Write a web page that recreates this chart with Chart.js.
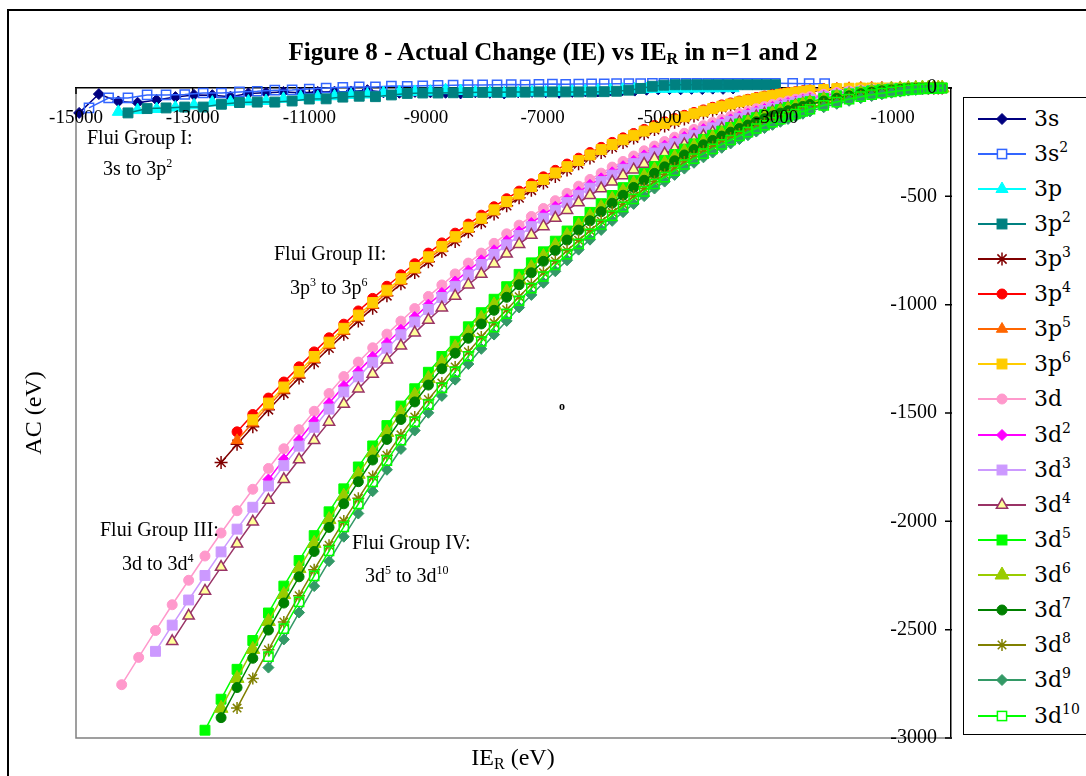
<!DOCTYPE html>
<html>
<head>
<meta charset="utf-8">
<script src="https://cdn.jsdelivr.net/npm/chart.js@4.4.0/dist/chart.umd.min.js"></script>
<style>
html,body{margin:0;padding:0;background:#fff;width:1086px;height:776px;overflow:hidden;}
#wrap{position:relative;width:1086px;height:776px;overflow:hidden;}
#frame{position:absolute;left:7px;top:9px;width:1300px;height:900px;border:2px solid #000;}
#chart{position:absolute;left:0;top:0;}
.t{position:absolute;font-family:"Liberation Serif","Times New Roman",serif;color:#000;white-space:nowrap;}
.t sup{font-size:12px;line-height:0;vertical-align:8px;}
#title{left:153px;width:800px;top:37px;line-height:30px;font-size:25px;font-weight:bold;text-align:center;}
#title sub{font-size:16px;line-height:0;vertical-align:-4px;}
#xtitle{left:413px;width:200px;top:743px;line-height:28px;font-size:24px;text-align:center;}
#xtitle sub{font-size:16px;line-height:0;vertical-align:-4px;}
#ytitle{left:-67px;width:200px;top:399px;line-height:28px;font-size:24px;text-align:center;transform:rotate(-90deg);}
.ann{font-size:20px;line-height:24px;}
#legend{position:absolute;left:963px;top:97px;width:300px;height:636px;border:1.5px solid #000;background:#fff;}
.li{position:absolute;left:14px;height:30px;width:250px;}
.li svg{position:absolute;left:0;top:0;}
.li span{position:absolute;left:56px;top:0;line-height:30px;font-family:"DejaVu Serif",serif;font-size:22px;color:#000;white-space:nowrap;}
.li sup{font-size:14px;line-height:0;vertical-align:9px;}
</style>
</head>
<body>
<div id="wrap">
<div id="frame"></div>
<canvas id="chart" width="1086" height="776"></canvas>
<div class="t" id="title">Figure 8 - Actual Change (IE) vs IE<sub>R</sub> in n=1 and 2</div>
<div class="t" id="xtitle">IE<sub>R</sub> (eV)</div>
<div class="t" id="ytitle">AC (eV)</div>
<div class="t ann" style="left:87px;top:125px;">Flui Group I:</div>
<div class="t ann" style="left:103px;top:156px;">3s to 3p<sup>2</sup></div>
<div class="t ann" style="left:274px;top:241px;">Flui Group II:</div>
<div class="t ann" style="left:290px;top:275px;">3p<sup>3</sup> to 3p<sup>6</sup></div>
<div class="t ann" style="left:100px;top:517px;">Flui Group III:</div>
<div class="t ann" style="left:122px;top:551px;">3d to 3d<sup>4</sup></div>
<div class="t ann" style="left:352px;top:530px;">Flui Group IV:</div>
<div class="t ann" style="left:365px;top:563px;">3d<sup>5</sup> to 3d<sup>10</sup></div>
<div class="t" style="left:559px;top:399px;font-size:12px;line-height:14px;font-weight:bold;">o</div>
<div id="legend"></div>
</div>
<script>
// ---------- axis ticks ----------
const xTickValues = [-15000,-13000,-11000,-9000,-7000,-5000,-3000,-1000];
const xTickLabels = ['-15000','-13000','-11000','-9000','-7000','-5000','-3000','-1000'];
const yTickValues = [0,-500,-1000,-1500,-2000,-2500,-3000];
const yTickLabels = ['0','-500','-1000','-1500','-2000','-2500','-3000'];

// ---------- series names ----------
const seriesNames = ['3s','3s²','3p','3p²','3p³','3p⁴','3p⁵','3p⁶','3d','3d²','3d³','3d⁴','3d⁵','3d⁶','3d⁷','3d⁸','3d⁹','3d¹⁰'];

// ---------- IE_R (x) values ----------
const xGridI = [-14946,-14608,-14274,-13944,-13618,-13296,-12977,-12663,-12352,-12045,-11742,-11443,-11148,-10856,-10569,-10285,-10005,-9729,-9457,-9189,-8924,-8664,-8407,-8154,-7905,-7660,-7419,-7182,-6948,-6718,-6493,-6271,-6052,-5838,-5628,-5421,-5219,-5020,-4825,-4634,-4447,-4263,-4084,-3908,-3736];
const xGridIh = [-14777,-14441,-14109,-13781,-13456,-13136,-12820,-12507,-12198,-11893,-11592,-11295,-11001,-10712,-10426,-10145,-9867,-9593,-9322,-9056,-8794,-8535,-8280,-8029,-7782,-7539,-7300,-7064,-6833,-6605,-6381,-6161,-5945,-5733,-5524,-5320,-5119,-4922,-4729,-4540,-4355,-4173,-3996,-3822,-3652,-3486,-3324,-3166,-3011,-2714,-2432,-2166];
const xGridZ = [-14217,-13926,-13637,-13351,-13069,-12789,-12513,-12239,-11969,-11701,-11437,-11176,-10917,-10662,-10409,-10160,-9914,-9670,-9430,-9193,-8959,-8728,-8500,-8274,-8052,-7833,-7617,-7404,-7194,-6987,-6783,-6582,-6384,-6189,-5997,-5808,-5622,-5440,-5260,-5083,-4909,-4738,-4571,-4406,-4244,-4086,-3930,-3778,-3628,-3481,-3338,-3197,-3060,-2925,-2794,-2665,-2540,-2418,-2182,-1958,-1747,-1547,-1360,-1185,-1021,-870,-731,-604,-490,-387,-296,-218,-151];

// ---------- AC (y) values ----------
const y3s = [-115,-28,-62,-68,-55,-42,-32,-33,-40,-25,-22,-18,-22,-18,-17,-16,-10,-20,-22,-18,-20,-22,-25,-20,-22,-25,-20,-18,-20,-22,-18,-15,-16,-12,-10,-12,-8,-6,-5,-6,-4,-5,-3,-4,-2];
const y3s2 = [-92,-46,-46,-32,-32,-30,-23,-23,-18,-15,-10,-9,-5,0,3,5,5,9,8,10,12,13,14,14,15,16,15,17,18,17,18,19,19,20,20,20,21,21,21,21,22,22,22,22,22,22,22,22,22,21,20,20];
const y3p = [null,null,-110,-102,-97,-90,-80,-67,-65,-62,-60,-50,-42,-42,-38,-32,-30,-23,-19,-18,-17,-10,-14,-20,-22,-24,-22,-20,-20,-18,-17,-15,-12,-10,-8,-6,-5,-4,-4,-3,-3,-2,-2,-1,-1];
const y3p2 = [null,null,-115,-95,-92,-88,-88,-75,-67,-65,-65,-60,-51,-50,-42,-38,-40,-32,-25,-23,-23,-22,-21,-20,-20,-19,-19,-18,-18,-18,-18,-18,-17,-15,-10,-2,8,13,15,15,15,15,15,15,15,15,15,15,15];
const y3p3 = [null,null,null,null,null,null,-1728,-1644,-1563,-1485,-1410,-1338,-1268,-1201,-1137,-1075,-1016,-959,-904,-852,-802,-754,-708,-664,-622,-581,-543,-507,-472,-439,-408,-378,-350,-323,-298,-274,-252,-231,-211,-192,-175,-158,-143,-129,-115,-103,-91,-81,-71,-62,-54,-47,-40,-34,-28,-24,-19,-15,-9,-5,-2,-1,0,0,0,0,0,0,0,0,0,0,0];
const y3p4 = [null,null,null,null,null,null,null,-1587,-1507,-1431,-1357,-1287,-1218,-1153,-1090,-1029,-971,-915,-862,-811,-762,-715,-670,-628,-587,-548,-511,-476,-442,-410,-380,-351,-324,-298,-274,-251,-230,-210,-191,-173,-156,-141,-126,-113,-101,-89,-78,-69,-60,-52,-44,-37,-31,-26,-21,-17,-13,-10,-5,-2,-1,0,0,0,0,0,0,0,0,0,0,0,0];
const y3p5 = [null,null,null,null,null,null,null,-1626,-1545,-1468,-1393,-1322,-1252,-1186,-1122,-1060,-1002,-945,-891,-839,-789,-741,-696,-652,-610,-571,-533,-497,-463,-430,-399,-370,-342,-315,-291,-267,-245,-224,-204,-186,-169,-153,-138,-124,-110,-98,-87,-77,-67,-59,-51,-44,-37,-31,-26,-21,-17,-14,-8,-4,-1,0,0,0,0,0,0,0,0,0,0,0,0];
const y3p6 = [null,null,null,null,null,null,null,null,-1531,-1454,-1380,-1308,-1239,-1173,-1109,-1048,-990,-933,-880,-828,-779,-731,-686,-642,-601,-562,-524,-489,-455,-422,-392,-363,-335,-309,-284,-261,-239,-218,-199,-181,-164,-148,-133,-119,-107,-95,-84,-74,-64,-56,-48,-41,-35,-29,-24,-20,-16,-12,-7,-3,-1,0,0,0,0,0,0,0,0,0,0,0,0];
const y3d = [-2754,-2628,-2504,-2385,-2272,-2160,-2054,-1951,-1852,-1756,-1665,-1577,-1492,-1410,-1332,-1265,-1199,-1136,-1076,-1018,-962,-909,-858,-808,-762,-717,-673,-633,-593,-556,-520,-486,-453,-422,-393,-365,-339,-314,-290,-268,-247,-227,-209,-191,-174,-159,-145,-131,-118,-107,-96,-86,-76,-68,-60,-52,-46,-40,-29,-21,-14,-9,-5,-3,-1,0,0,0,0,0,0,0,0];
const y3d2 = [null,null,null,null,null,null,null,null,null,-1807,-1714,-1625,-1538,-1455,-1376,-1308,-1241,-1177,-1116,-1057,-1000,-946,-893,-843,-795,-749,-705,-663,-623,-584,-548,-513,-479,-447,-417,-389,-361,-336,-311,-288,-266,-246,-226,-208,-190,-175,-159,-145,-132,-119,-108,-97,-87,-78,-69,-62,-54,-48,-36,-27,-19,-13,-9,-5,-3,-1,0,0,0,0,0,0,0];
const y3d3 = [null,null,-2600,-2479,-2363,-2250,-2141,-2036,-1935,-1837,-1743,-1653,-1566,-1482,-1403,-1333,-1266,-1201,-1139,-1080,-1022,-967,-915,-863,-815,-768,-724,-681,-640,-601,-564,-529,-495,-462,-432,-402,-375,-349,-324,-300,-278,-257,-237,-218,-200,-184,-168,-154,-140,-127,-115,-104,-94,-84,-75,-67,-59,-53,-40,-31,-22,-16,-11,-7,-4,-2,-1,0,0,0,0,0,0];
const y3d4 = [null,null,null,-2554,-2436,-2321,-2211,-2104,-2002,-1902,-1806,-1715,-1626,-1541,-1459,-1388,-1320,-1254,-1190,-1130,-1071,-1014,-960,-908,-859,-811,-765,-721,-679,-639,-600,-564,-529,-495,-464,-433,-404,-377,-351,-327,-304,-281,-261,-241,-222,-205,-188,-173,-158,-145,-132,-120,-109,-98,-89,-80,-72,-64,-51,-39,-30,-22,-16,-11,-7,-5,-3,-1,-1,0,0,0,0];
const y3d5 = [null,null,null,null,null,-2964,-2821,-2683,-2550,-2423,-2299,-2181,-2066,-1956,-1850,-1749,-1652,-1558,-1468,-1388,-1312,-1239,-1169,-1102,-1037,-975,-917,-860,-807,-756,-707,-660,-616,-574,-534,-496,-460,-426,-394,-363,-334,-307,-282,-258,-237,-218,-199,-182,-166,-151,-137,-123,-111,-100,-90,-80,-71,-63,-48,-36,-27,-19,-13,-8,-5,-3,-1,0,0,0,0,0,0];
const y3d6 = [null,null,null,null,null,null,-2863,-2725,-2591,-2462,-2338,-2218,-2102,-1992,-1884,-1783,-1684,-1590,-1499,-1418,-1341,-1267,-1197,-1128,-1063,-1001,-941,-884,-829,-778,-728,-681,-636,-593,-552,-514,-477,-442,-410,-378,-349,-321,-295,-271,-250,-230,-211,-193,-176,-161,-146,-133,-120,-108,-97,-87,-78,-69,-54,-41,-31,-23,-16,-11,-7,-4,-2,-1,0,0,0,0,0];
const y3d7 = [null,null,null,null,null,null,-2906,-2767,-2632,-2502,-2377,-2256,-2139,-2028,-1919,-1817,-1717,-1622,-1530,-1449,-1371,-1296,-1224,-1155,-1089,-1026,-966,-908,-853,-800,-750,-702,-656,-613,-571,-532,-495,-459,-426,-394,-364,-336,-309,-284,-262,-242,-222,-204,-187,-171,-156,-142,-129,-116,-105,-95,-85,-76,-60,-47,-36,-26,-19,-13,-9,-6,-3,-2,-1,0,0,0,0];
const y3d8 = [null,null,null,null,null,null,null,-2862,-2725,-2593,-2465,-2343,-2223,-2110,-1999,-1894,-1793,-1695,-1601,-1518,-1438,-1362,-1288,-1217,-1149,-1084,-1023,-963,-906,-852,-800,-750,-703,-658,-615,-574,-536,-499,-464,-431,-399,-369,-342,-315,-292,-271,-250,-231,-212,-195,-179,-164,-150,-137,-125,-113,-102,-92,-75,-60,-47,-37,-28,-21,-15,-11,-7,-5,-3,-2,-1,0,0];
const y3d9 = [null,null,null,null,null,null,null,null,null,-2675,-2545,-2421,-2299,-2184,-2071,-1964,-1861,-1762,-1666,-1581,-1499,-1421,-1346,-1274,-1204,-1138,-1075,-1013,-955,-899,-846,-795,-746,-700,-655,-613,-573,-535,-499,-464,-432,-401,-372,-345,-320,-298,-276,-256,-236,-218,-201,-185,-170,-156,-143,-131,-119,-108,-89,-73,-59,-47,-37,-29,-22,-17,-12,-9,-6,-4,-3,-2,-1];
const y3d10 = [null,null,null,null,null,null,null,null,null,-2624,-2495,-2372,-2252,-2137,-2026,-1920,-1818,-1720,-1625,-1541,-1461,-1384,-1310,-1238,-1170,-1104,-1042,-982,-924,-870,-817,-767,-719,-673,-630,-589,-549,-512,-477,-443,-411,-381,-353,-326,-303,-281,-260,-240,-221,-204,-187,-172,-158,-144,-131,-120,-108,-98,-80,-65,-51,-40,-31,-24,-18,-13,-9,-6,-4,-3,-2,-1,0];

const seriesX = [xGridI,xGridIh,xGridI,xGridIh,xGridZ,xGridZ,xGridZ,xGridZ,xGridZ,xGridZ,xGridZ,xGridZ,xGridZ,xGridZ,xGridZ,xGridZ,xGridZ,xGridZ];
const seriesY = [y3s,y3s2,y3p,y3p2,y3p3,y3p4,y3p5,y3p6,y3d,y3d2,y3d3,y3d4,y3d5,y3d6,y3d7,y3d8,y3d9,y3d10];

// ---------- styles ----------
const seriesStyle = [
  {c:'#000080', p:'rectRot',  r:5.5, f:'#000080', bw:1},
  {c:'#3366FF', p:'rect',     r:6.5, f:'rgba(255,255,255,0)', bw:1.5},
  {c:'#00FFFF', p:'triangle', r:7,   f:'#00FFFF', bw:1},
  {c:'#008080', p:'rect',     r:7,   f:'#008080', bw:1},
  {c:'#800000', p:'star',     r:6.5, f:'#800000', bw:1.5},
  {c:'#FF0000', p:'circle',   r:5,   f:'#FF0000', bw:1},
  {c:'#FF6600', p:'triangle', r:6.5, f:'#FF6600', bw:1},
  {c:'#FFCC00', p:'rect',     r:7,   f:'#FFCC00', bw:1},
  {c:'#FF99CC', p:'circle',   r:5,   f:'#FF99CC', bw:1},
  {c:'#FF00FF', p:'rectRot',  r:5.5, f:'#FF00FF', bw:1},
  {c:'#CC99FF', p:'rect',     r:7,   f:'#CC99FF', bw:1},
  {c:'#993366', p:'triangle', r:6.5, f:'#FFFF99', bw:1.5},
  {c:'#00FF00', p:'rect',     r:7,   f:'#00FF00', bw:1},
  {c:'#99CC00', p:'triangle', r:8,   f:'#99CC00', bw:1},
  {c:'#008000', p:'circle',   r:5,   f:'#008000', bw:1},
  {c:'#808000', p:'star',     r:6,   f:'#808000', bw:1.5},
  {c:'#339966', p:'rectRot',  r:5.5, f:'#339966', bw:1},
  {c:'#00FF00', p:'rect',     r:6.5, f:'rgba(255,255,255,0)', bw:1.5}
];

function toPoints(xs, ys) {
  const out = [];
  for (let i = 0; i < ys.length && i < xs.length; i++) {
    if (ys[i] !== null) out.push({x: xs[i], y: ys[i]});
  }
  return out;
}

const N = seriesNames.length;
const datasets = seriesNames.map((name, i) => {
  const s = seriesStyle[i];
  return {
    label: name,
    data: toPoints(seriesX[i], seriesY[i]),
    showLine: true,
    borderColor: s.c,
    borderWidth: 1.5,
    pointStyle: s.p,
    pointRadius: s.r,
    pointBackgroundColor: s.f,
    pointBorderColor: s.c,
    pointBorderWidth: s.bw,
    tension: 0,
    clip: false,
    order: N - i
  };
});

const axisDecor = {
  id: 'axisDecor',
  beforeDatasetsDraw(chart) {
    const {ctx, chartArea: a, scales: {x, y}} = chart;
    ctx.save();
    ctx.strokeStyle = '#808080';
    ctx.lineWidth = 1.5;
    ctx.beginPath();
    ctx.moveTo(a.left, a.top);
    ctx.lineTo(a.left, a.bottom);
    ctx.lineTo(a.right, a.bottom);
    ctx.stroke();
    ctx.strokeStyle = '#000';
    ctx.beginPath();
    xTickValues.forEach(v => { const px = x.getPixelForValue(v); ctx.moveTo(px, a.top - 1); ctx.lineTo(px, a.top + 6); });
    yTickValues.forEach(v => { const py = y.getPixelForValue(v); ctx.moveTo(a.right + 1, py); ctx.lineTo(a.right - 6, py); });
    ctx.stroke();
    ctx.restore();
  },
  afterDatasetsDraw(chart) {
    const {ctx, chartArea: a, scales: {x, y}} = chart;
    ctx.save();
    ctx.fillStyle = '#000';
    ctx.font = '19px "Liberation Serif", serif';
    ctx.textAlign = 'center';
    ctx.textBaseline = 'middle';
    xTickValues.forEach((v, i) => ctx.fillText(xTickLabels[i], x.getPixelForValue(v), a.top + 30));
    ctx.font = '20px "Liberation Serif", serif';
    ctx.textAlign = 'right';
    yTickValues.forEach((v, i) => ctx.fillText(yTickLabels[i], a.right - 14, y.getPixelForValue(v)));
    ctx.restore();
  }
};

const chart = new Chart(document.getElementById('chart').getContext('2d'), {
  type: 'scatter',
  data: {datasets},
  options: {
    responsive: false,
    animation: false,
    devicePixelRatio: 1,
    layout: {padding: {left: 76, top: 88, right: 135, bottom: 38}},
    plugins: {legend: {display: false}, tooltip: {enabled: false}},
    scales: {
      x: {type: 'linear', position: 'top', min: -15000, max: 0,
          ticks: {display: false}, grid: {drawOnChartArea: false, drawTicks: false},
          border: {color: '#000', width: 1.5}},
      y: {type: 'linear', position: 'right', min: -3000, max: 0,
          ticks: {display: false}, grid: {drawOnChartArea: false, drawTicks: false},
          border: {color: '#000', width: 1.5}}
    }
  },
  plugins: [axisDecor]
});

// ---------- legend (built from the chart's datasets) ----------
const supMap = {'⁰':'0','¹':'1','²':'2','³':'3','⁴':'4','⁵':'5','⁶':'6','⁷':'7','⁸':'8','⁹':'9'};
function labelHTML(t) {
  let out = '', sup = '';
  for (const ch of t) {
    if (supMap[ch]) { sup += supMap[ch]; }
    else { if (sup) { out += '<sup>' + sup + '</sup>'; sup = ''; } out += ch; }
  }
  if (sup) out += '<sup>' + sup + '</sup>';
  return out;
}
function markerSVG(s, cx, cy) {
  const r = s.r, fill = s.f, st = s.c, bw = s.bw;
  if (s.p === 'circle') return `<circle cx="${cx}" cy="${cy}" r="${r}" fill="${fill}" stroke="${st}" stroke-width="${bw}"/>`;
  if (s.p === 'rect') { const h = r * Math.SQRT1_2; return `<rect x="${cx-h}" y="${cy-h}" width="${2*h}" height="${2*h}" fill="${fill === 'rgba(255,255,255,0)' ? '#fff' : fill}" stroke="${st}" stroke-width="${bw}"/>`; }
  if (s.p === 'rectRot') return `<polygon points="${cx-r},${cy} ${cx},${cy-r} ${cx+r},${cy} ${cx},${cy+r}" fill="${fill}" stroke="${st}" stroke-width="${bw}"/>`;
  if (s.p === 'triangle') { const a = r*0.866, b = r*0.5; return `<polygon points="${cx},${cy-r} ${cx+a},${cy+b} ${cx-a},${cy+b}" fill="${fill}" stroke="${st}" stroke-width="${bw}"/>`; }
  if (s.p === 'star') { const d = r*0.707; return `<path d="M${cx} ${cy-r}V${cy+r}M${cx-r} ${cy}H${cx+r}M${cx-d} ${cy-d}L${cx+d} ${cy+d}M${cx-d} ${cy+d}L${cx+d} ${cy-d}" stroke="${st}" stroke-width="${bw}" fill="none"/>`; }
  return '';
}
const legendEl = document.getElementById('legend');
chart.data.datasets.forEach((ds, i) => {
  const s = seriesStyle[i];
  const row = document.createElement('div');
  row.className = 'li';
  row.style.top = (5.5 + i * 35.12) + 'px';
  row.innerHTML = `<svg width="50" height="30"><line x1="0" y1="15" x2="48" y2="15" stroke="${s.c}" stroke-width="2"/>${markerSVG(s, 24, 15)}</svg><span>${labelHTML(ds.label)}</span>`;
  legendEl.appendChild(row);
});
</script>
</body>
</html>
